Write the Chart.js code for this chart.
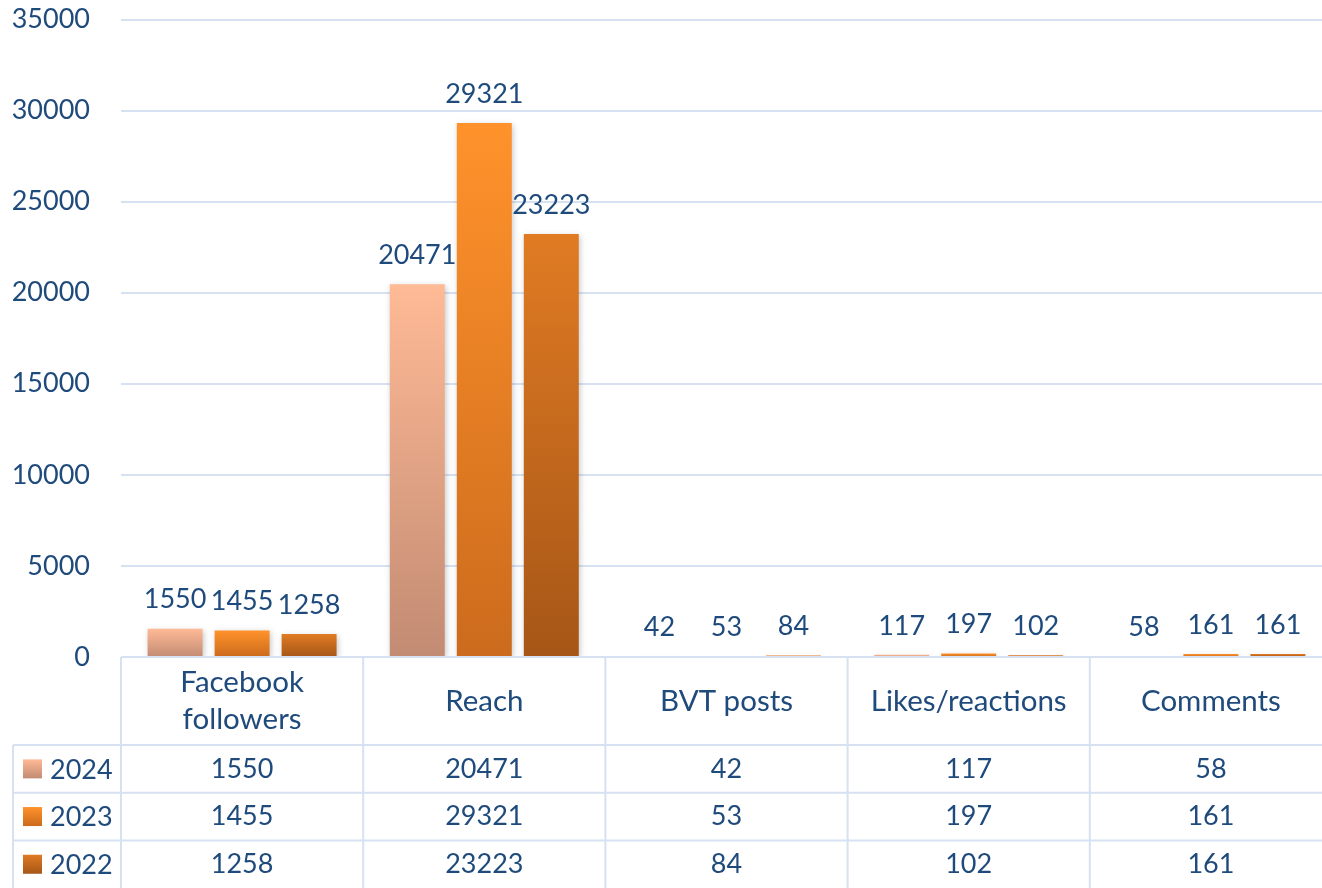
<!DOCTYPE html>
<html>
<head>
<meta charset="utf-8">
<title>Facebook statistics 2022-2024</title>
<script src="https://cdn.jsdelivr.net/npm/chart.js@4.4.1/dist/chart.umd.min.js"></script>
<style>
  html, body { margin: 0; padding: 0; background: #fff; overflow: hidden; }
  #wrap { position: absolute; left: 0; top: 0; width: 1340px; height: 888px; }
</style>
</head>
<body>
<div id="wrap"><canvas id="myChart" width="1340" height="888"></canvas></div>
<script>
// Data
const categories = [['Facebook', 'followers'], ['Reach'], ['BVT posts'], ['Likes/reactions'], ['Comments']];
const years = ['2024', '2023', '2022'];
const values2024 = [1550, 20471, 42, 117, 58];
const values2023 = [1455, 29321, 53, 197, 161];
const values2022 = [1258, 23223, 84, 102, 161];
const yTicks = [0, 5000, 10000, 15000, 20000, 25000, 30000, 35000];

// Cores (topo, base) de cada série
const seriesColors = [
  ['#FFBA96', '#C28B73'],
  ['#FF922B', '#CC6B1D'],
  ['#E07B23', '#A65617']
];

const TEXT_COLOR = '#1F4A7C';
const LINE_COLOR = '#D6E1F2';
const FONT = 'Lato, "Open Sans", sans-serif';
const FONT_SIZE = 27;
const HEADER_SIZE = 29.5;

const ctx = document.getElementById('myChart').getContext('2d');

// Gradiente vertical por barra
function barGradient(colors) {
  return function (context) {
    const chart = context.chart;
    if (!chart.chartArea || context.type !== 'data') return colors[0];
    const yScale = chart.scales.y;
    const top = yScale.getPixelForValue(context.raw);
    const bottom = yScale.getPixelForValue(0);
    if (bottom - top < 1) return colors[0];
    const g = chart.ctx.createLinearGradient(0, top, 0, bottom);
    g.addColorStop(0, colors[0]);
    g.addColorStop(1, colors[1]);
    return g;
  };
}

// Sombra das barras + rótulos de valor
const barExtras = {
  id: 'barExtras',
  beforeDatasetsDraw(chart) {
    const c = chart.ctx;
    c.save();
    c.shadowColor = 'rgba(0, 0, 0, 0.22)';
    c.shadowBlur = 6;
    c.shadowOffsetX = 1;
    c.shadowOffsetY = 2;
  },
  afterDatasetsDraw(chart) {
    const c = chart.ctx;
    c.restore();
    c.save();
    c.font = FONT_SIZE + 'px ' + FONT;
    c.fillStyle = TEXT_COLOR;
    c.textAlign = 'center';
    c.textBaseline = 'middle';
    chart.data.datasets.forEach((ds, i) => {
      const meta = chart.getDatasetMeta(i);
      meta.data.forEach((bar, j) => {
        c.fillText(String(ds.data[j]), bar.x, bar.y - 29);
      });
    });
    c.restore();
  }
};

// Tabela de dados abaixo do gráfico
const dataTable = {
  id: 'dataTable',
  afterDraw(chart) {
    const c = chart.ctx;
    const area = chart.chartArea;
    const xScale = chart.scales.x;
    const n = categories.length;
    const cw = (area.right - area.left) / n;
    const headerTop = area.bottom;
    const headerBottom = 745;
    const rowH = 47.7;
    const legendLeft = 13;
    const all = [values2024, values2023, values2022];

    c.save();
    c.strokeStyle = LINE_COLOR;
    c.lineWidth = 2;
    c.beginPath();
    c.moveTo(area.left, headerTop);
    c.lineTo(area.right, headerTop);
    for (let r = 0; r < years.length; r++) {
      const y = headerBottom + r * rowH;
      c.moveTo(legendLeft, y);
      c.lineTo(area.right, y);
    }
    for (let k = 0; k <= n; k++) {
      const x = area.left + k * cw;
      c.moveTo(x, headerTop);
      c.lineTo(x, chart.height);
    }
    c.moveTo(legendLeft, headerBottom);
    c.lineTo(legendLeft, chart.height);
    c.stroke();

    c.fillStyle = TEXT_COLOR;
    c.textAlign = 'center';
    c.textBaseline = 'middle';

    // Cabeçalho
    c.font = HEADER_SIZE + 'px ' + FONT;
    categories.forEach((lines, i) => {
      const x = xScale.getPixelForValue(i);
      const mid = (headerTop + headerBottom) / 2;
      const lh = 37;
      lines.forEach((line, k) => {
        c.fillText(line, x, mid + (k - (lines.length - 1) / 2) * lh);
      });
    });

    // Linhas de valores
    c.font = FONT_SIZE + 'px ' + FONT;
    all.forEach((row, r) => {
      const y = headerBottom + r * rowH + rowH / 2;
      row.forEach((v, i) => {
        c.fillText(String(v), xScale.getPixelForValue(i), y);
      });
      // legenda
      const g = c.createLinearGradient(0, y - 9.5, 0, y + 9.5);
      g.addColorStop(0, seriesColors[r][0]);
      g.addColorStop(1, seriesColors[r][1]);
      c.fillStyle = g;
      c.fillRect(23, y - 9.5, 19, 19);
      c.fillStyle = TEXT_COLOR;
      c.textAlign = 'left';
      c.fillText(years[r], 50, y + 1);
      c.textAlign = 'center';
    });
    c.restore();
  }
};

const seriesData = [values2024, values2023, values2022];

const myChart = new Chart(ctx, {
  type: 'bar',
  data: {
    labels: categories.map(l => l.join(' ')),
    datasets: years.map((year, i) => ({
      label: year,
      data: seriesData[i],
      backgroundColor: barGradient(seriesColors[i]),
      borderWidth: 0,
      categoryPercentage: 0.83,
      barPercentage: 0.82
    }))
  },
  options: {
    responsive: false,
    animation: false,
    events: [],
    layout: {
      padding: { top: 19.5, right: 8, bottom: 231, left: 0 }
    },
    plugins: {
      legend: { display: false },
      tooltip: { enabled: false }
    },
    scales: {
      x: {
        display: false
      },
      y: {
        min: yTicks[0],
        max: yTicks[yTicks.length - 1],
        afterFit(scale) {
          scale.width = 121;
          scale.paddingTop = 0;
          scale.paddingBottom = 0;
        },
        afterBuildTicks(scale) { scale.ticks = yTicks.map(v => ({ value: v })); },
        border: { display: false },
        grid: { color: LINE_COLOR, lineWidth: 2, drawTicks: false },
        ticks: {
          padding: 31,
          color: TEXT_COLOR,
          font: { family: FONT, size: FONT_SIZE },
          callback: v => String(v)
        }
      }
    }
  },
  plugins: [barExtras, dataTable]
});
</script>
</body>
</html>
